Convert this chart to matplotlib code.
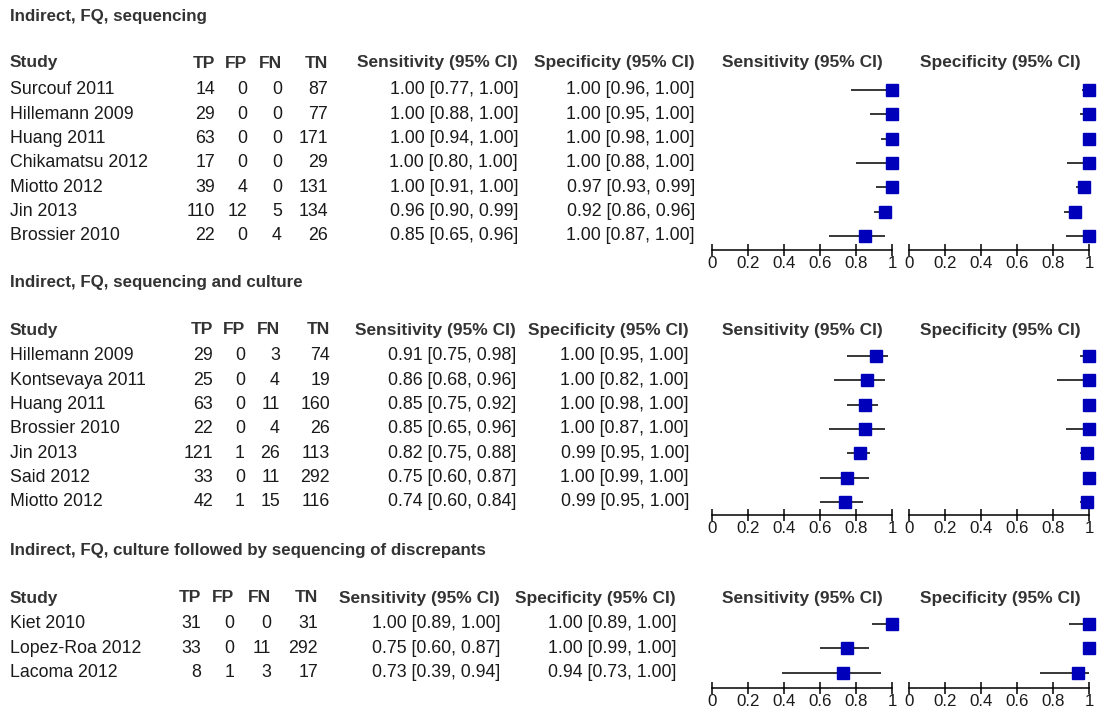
import matplotlib
matplotlib.use("Agg")
import matplotlib.pyplot as plt

# section 1 : Indirect, FQ, sequencing
title1 = "Indirect, FQ, sequencing"
study1 = ["Surcouf 2011", "Hillemann 2009", "Huang 2011", "Chikamatsu 2012",
          "Miotto 2012", "Jin 2013", "Brossier 2010"]
tp1 = [14, 29, 63, 17, 39, 110, 22]
fp1 = [0, 0, 0, 0, 4, 12, 0]
fn1 = [0, 0, 0, 0, 0, 5, 4]
tn1 = [87, 77, 171, 29, 131, 134, 26]
sens1 = [1.00, 1.00, 1.00, 1.00, 1.00, 0.96, 0.85]
sens_lo1 = [0.77, 0.88, 0.94, 0.80, 0.91, 0.90, 0.65]
sens_hi1 = [1.00, 1.00, 1.00, 1.00, 1.00, 0.99, 0.96]
spec1 = [1.00, 1.00, 1.00, 1.00, 0.97, 0.92, 1.00]
spec_lo1 = [0.96, 0.95, 0.98, 0.88, 0.93, 0.86, 0.87]
spec_hi1 = [1.00, 1.00, 1.00, 1.00, 0.99, 0.96, 1.00]

# section 2 : Indirect, FQ, sequencing and culture
title2 = "Indirect, FQ, sequencing and culture"
study2 = ["Hillemann 2009", "Kontsevaya 2011", "Huang 2011", "Brossier 2010",
          "Jin 2013", "Said 2012", "Miotto 2012"]
tp2 = [29, 25, 63, 22, 121, 33, 42]
fp2 = [0, 0, 0, 0, 1, 0, 1]
fn2 = [3, 4, 11, 4, 26, 11, 15]
tn2 = [74, 19, 160, 26, 113, 292, 116]
sens2 = [0.91, 0.86, 0.85, 0.85, 0.82, 0.75, 0.74]
sens_lo2 = [0.75, 0.68, 0.75, 0.65, 0.75, 0.60, 0.60]
sens_hi2 = [0.98, 0.96, 0.92, 0.96, 0.88, 0.87, 0.84]
spec2 = [1.00, 1.00, 1.00, 1.00, 0.99, 1.00, 0.99]
spec_lo2 = [0.95, 0.82, 0.98, 0.87, 0.95, 0.99, 0.95]
spec_hi2 = [1.00, 1.00, 1.00, 1.00, 1.00, 1.00, 1.00]

# section 3 : Indirect, FQ, culture followed by sequencing of discrepants
title3 = "Indirect, FQ, culture followed by sequencing of discrepants"
study3 = ["Kiet 2010", "Lopez-Roa 2012", "Lacoma 2012"]
tp3 = [31, 33, 8]
fp3 = [0, 0, 1]
fn3 = [0, 11, 3]
tn3 = [31, 292, 17]
sens3 = [1.00, 0.75, 0.73]
sens_lo3 = [0.89, 0.60, 0.39]
sens_hi3 = [1.00, 0.87, 0.94]
spec3 = [1.00, 1.00, 0.94]
spec_lo3 = [0.89, 0.99, 0.73]
spec_hi3 = [1.00, 1.00, 1.00]

ticks = [0, 0.2, 0.4, 0.6, 0.8, 1]
tick_labels = ["0", "0.2", "0.4", "0.6", "0.8", "1"]

plt.rcParams["font.family"] = ["Liberation Sans", "DejaVu Sans"]

W, H = 1097, 707
fig = plt.figure(figsize=(W / 100, H / 100), dpi=100)
bg = fig.add_axes([0, 0, 1, 1])
bg.set_xlim(0, W)
bg.set_ylim(H, 0)
bg.axis("off")

FS = 12.8
TXT = "#1a1a1a"
HDR = "#333333"
BLUE = "#0000bb"
DY = 24.3


def forest(x0, row0, axis_y, est, lo, hi):
    n = len(est)
    top = row0 - 0.6 * DY
    ax = fig.add_axes([x0 / W, 1 - axis_y / H, 180 / W, (axis_y - top) / H])
    ax.set_xlim(0, 1)
    ax.set_ylim((axis_y - row0) / DY, -0.6)
    ys = list(range(n))
    ax.hlines(ys, lo, hi, color="black", lw=1.1, clip_on=False)
    ax.plot(est, ys, "s", ms=8, color=BLUE, mec=BLUE, clip_on=False, zorder=3)
    for s in ["top", "left", "right"]:
        ax.spines[s].set_visible(False)
    ax.spines["bottom"].set_linewidth(1.1)
    ax.set_yticks([])
    ax.set_xticks(ticks)
    ax.set_xticklabels(tick_labels)
    ax.tick_params(axis="x", direction="inout", length=8, width=1.1,
                   labelsize=12.2, pad=0, colors="black", labelcolor=TXT)
    ax.patch.set_alpha(0)
    return ax


def section(title, study, tp, fp, fn, tn, sens, slo, shi, spec, plo, phi,
            title_y, header_y, row0, axis_y, cols):
    xtp, xfp, xfn, xtn, xse, xsp = cols
    bg.text(10, title_y, title, fontsize=FS - 0.6, fontweight="bold",
            color=HDR, va="center", ha="left")
    hk = dict(fontsize=FS - 0.3, fontweight="bold", color=HDR, va="center")
    bg.text(10, header_y, "Study", ha="left", **hk)
    for x, lab in zip(cols, ["TP", "FP", "FN", "TN", "Sensitivity (95% CI)",
                             "Specificity (95% CI)"]):
        bg.text(x, header_y, lab, ha="right", **hk)
    bg.text(802, header_y, "Sensitivity (95% CI)", ha="center", **hk)
    bg.text(1000, header_y, "Specificity (95% CI)", ha="center", **hk)
    rk = dict(fontsize=FS, color=TXT, va="center")
    for i in range(len(study)):
        y = row0 + i * DY
        bg.text(10, y, study[i], ha="left", **rk)
        bg.text(xtp, y, str(tp[i]), ha="right", **rk)
        bg.text(xfp, y, str(fp[i]), ha="right", **rk)
        bg.text(xfn, y, str(fn[i]), ha="right", **rk)
        bg.text(xtn, y, str(tn[i]), ha="right", **rk)
        bg.text(xse, y, "%.2f [%.2f, %.2f]" % (sens[i], slo[i], shi[i]), ha="right", **rk)
        bg.text(xsp, y, "%.2f [%.2f, %.2f]" % (spec[i], plo[i], phi[i]), ha="right", **rk)
    forest(712, row0, axis_y, sens, slo, shi)
    forest(909, row0, axis_y, spec, plo, phi)


section(title1, study1, tp1, fp1, fn1, tn1, sens1, sens_lo1, sens_hi1,
        spec1, spec_lo1, spec_hi1, 16, 63, 90, 250,
        (215, 247, 282, 328, 518, 695))
section(title2, study2, tp2, fp2, fn2, tn2, sens2, sens_lo2, sens_hi2,
        spec2, spec_lo2, spec_hi2, 283, 330, 356, 515,
        (213, 245, 280, 330, 516, 689))
section(title3, study3, tp3, fp3, fn3, tn3, sens3, sens_lo3, sens_hi3,
        spec3, spec_lo3, spec_hi3, 550, 598, 624, 688,
        (201, 234, 271, 318, 500, 676))

fig.savefig("out.png", dpi=100)
